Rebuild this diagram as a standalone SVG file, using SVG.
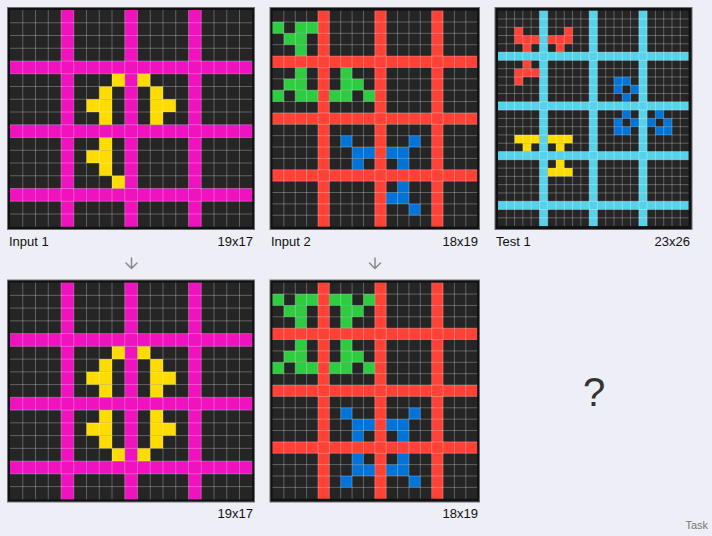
<svg xmlns="http://www.w3.org/2000/svg" width="712" height="536" viewBox="0 0 712 536">
<style>
.frame{fill:#111111;stroke:#6e6e74;stroke-width:1}
.bg{fill:#252525}
.grid{fill:none;stroke:#ffffff;stroke-opacity:0.28;stroke-width:1;vector-effect:non-scaling-stroke}
.m{fill:#f012be}.y{fill:#ffdc00}.r{fill:#ff4136}.g{fill:#2ecc40}.b{fill:#0074d9}.c{fill:#56d3ea}
.lbl{font-family:"Liberation Sans",Arial,sans-serif;font-size:13px;fill:#111}
.arr{fill:none;stroke:#8a8a8e;stroke-width:1.5;stroke-linecap:round;stroke-linejoin:round}
</style>
<rect width="712" height="536" fill="#eeeef6"/>

<g id="input1">
<rect class="frame" x="7.5" y="7.5" width="247" height="222"/>
<g transform="translate(10 10) scale(12.75)">
<rect class="bg" width="19" height="17"/>
<g class="m"><rect x="0" y="4" width="19" height="1"/><rect x="0" y="9" width="19" height="1"/><rect x="0" y="14" width="19" height="1"/><rect x="4" y="0" width="1" height="17"/><rect x="9" y="0" width="1" height="17"/><rect x="14" y="0" width="1" height="17"/></g>
<g class="y"><rect x="8" y="5" width="1" height="1"/><rect x="10" y="5" width="1" height="1"/><rect x="7" y="6" width="1" height="1"/><rect x="11" y="6" width="1" height="1"/><rect x="6" y="7" width="2" height="1"/><rect x="11" y="7" width="2" height="1"/><rect x="7" y="8" width="1" height="1"/><rect x="11" y="8" width="1" height="1"/><rect x="7" y="10" width="1" height="1"/><rect x="6" y="11" width="2" height="1"/><rect x="7" y="12" width="1" height="1"/><rect x="8" y="13" width="1" height="1"/></g>
<path class="grid" d="M1 0V17M2 0V17M3 0V17M4 0V17M5 0V17M6 0V17M7 0V17M8 0V17M9 0V17M10 0V17M11 0V17M12 0V17M13 0V17M14 0V17M15 0V17M16 0V17M17 0V17M18 0V17M0 1H19M0 2H19M0 3H19M0 4H19M0 5H19M0 6H19M0 7H19M0 8H19M0 9H19M0 10H19M0 11H19M0 12H19M0 13H19M0 14H19M0 15H19M0 16H19"/>
</g>
<text class="lbl" x="9" y="246">Input 1</text>
<text class="lbl" x="253" y="246" text-anchor="end">19x17</text>
</g>

<g id="input2">
<rect class="frame" x="270" y="7.5" width="209.5" height="222"/>
<g transform="translate(272.5 10.6) scale(11.37)">
<rect class="bg" width="18" height="19"/>
<g class="r"><rect x="0" y="4" width="18" height="1"/><rect x="0" y="9" width="18" height="1"/><rect x="0" y="14" width="18" height="1"/><rect x="4" y="0" width="1" height="19"/><rect x="9" y="0" width="1" height="19"/><rect x="14" y="0" width="1" height="19"/></g>
<g class="g"><rect x="0" y="1" width="1" height="1"/><rect x="2" y="1" width="2" height="1"/><rect x="1" y="2" width="2" height="1"/><rect x="2" y="3" width="1" height="1"/><rect x="2" y="5" width="1" height="1"/><rect x="6" y="5" width="1" height="1"/><rect x="1" y="6" width="2" height="1"/><rect x="6" y="6" width="2" height="1"/><rect x="0" y="7" width="1" height="1"/><rect x="2" y="7" width="2" height="1"/><rect x="5" y="7" width="2" height="1"/><rect x="8" y="7" width="1" height="1"/></g>
<g class="b"><rect x="6" y="11" width="1" height="1"/><rect x="12" y="11" width="1" height="1"/><rect x="7" y="12" width="2" height="1"/><rect x="10" y="12" width="2" height="1"/><rect x="7" y="13" width="1" height="1"/><rect x="11" y="13" width="1" height="1"/><rect x="11" y="15" width="1" height="1"/><rect x="10" y="16" width="2" height="1"/><rect x="12" y="17" width="1" height="1"/></g>
<path class="grid" d="M1 0V19M2 0V19M3 0V19M4 0V19M5 0V19M6 0V19M7 0V19M8 0V19M9 0V19M10 0V19M11 0V19M12 0V19M13 0V19M14 0V19M15 0V19M16 0V19M17 0V19M0 1H18M0 2H18M0 3H18M0 4H18M0 5H18M0 6H18M0 7H18M0 8H18M0 9H18M0 10H18M0 11H18M0 12H18M0 13H18M0 14H18M0 15H18M0 16H18M0 17H18M0 18H18"/>
</g>
<text class="lbl" x="271" y="246">Input 2</text>
<text class="lbl" x="478" y="246" text-anchor="end">18x19</text>
</g>

<g id="test1">
<rect class="frame" x="495" y="7.5" width="197" height="222"/>
<g transform="translate(498 10.67) scale(8.285)">
<rect class="bg" width="23" height="26"/>
<g class="c"><rect x="0" y="5" width="23" height="1"/><rect x="0" y="11" width="23" height="1"/><rect x="0" y="17" width="23" height="1"/><rect x="0" y="23" width="23" height="1"/><rect x="5" y="0" width="1" height="26"/><rect x="11" y="0" width="1" height="26"/><rect x="17" y="0" width="1" height="26"/></g>
<g class="r"><rect x="2" y="2" width="1" height="1"/><rect x="8" y="2" width="1" height="1"/><rect x="2" y="3" width="3" height="1"/><rect x="6" y="3" width="3" height="1"/><rect x="3" y="4" width="1" height="1"/><rect x="7" y="4" width="1" height="1"/><rect x="3" y="6" width="1" height="1"/><rect x="2" y="7" width="3" height="1"/><rect x="2" y="8" width="1" height="1"/></g>
<g class="b"><rect x="14" y="8" width="2" height="1"/><rect x="14" y="9" width="1" height="1"/><rect x="16" y="9" width="1" height="1"/><rect x="15" y="10" width="1" height="1"/><rect x="15" y="12" width="1" height="1"/><rect x="19" y="12" width="1" height="1"/><rect x="14" y="13" width="1" height="1"/><rect x="16" y="13" width="1" height="1"/><rect x="18" y="13" width="1" height="1"/><rect x="20" y="13" width="1" height="1"/><rect x="14" y="14" width="2" height="1"/><rect x="19" y="14" width="2" height="1"/></g>
<g class="y"><rect x="2" y="15" width="3" height="1"/><rect x="6" y="15" width="3" height="1"/><rect x="3" y="16" width="1" height="1"/><rect x="7" y="16" width="1" height="1"/><rect x="7" y="18" width="1" height="1"/><rect x="6" y="19" width="3" height="1"/></g>
<path class="grid" d="M1 0V26M2 0V26M3 0V26M4 0V26M5 0V26M6 0V26M7 0V26M8 0V26M9 0V26M10 0V26M11 0V26M12 0V26M13 0V26M14 0V26M15 0V26M16 0V26M17 0V26M18 0V26M19 0V26M20 0V26M21 0V26M22 0V26M0 1H23M0 2H23M0 3H23M0 4H23M0 5H23M0 6H23M0 7H23M0 8H23M0 9H23M0 10H23M0 11H23M0 12H23M0 13H23M0 14H23M0 15H23M0 16H23M0 17H23M0 18H23M0 19H23M0 20H23M0 21H23M0 22H23M0 23H23M0 24H23M0 25H23"/>
</g>
<text class="lbl" x="496" y="246">Test 1</text>
<text class="lbl" x="690" y="246" text-anchor="end">23x26</text>
</g>

<g id="output1">
<rect class="frame" x="7.5" y="280" width="247" height="222"/>
<g transform="translate(10 282.6) scale(12.75)">
<rect class="bg" width="19" height="17"/>
<g class="m"><rect x="0" y="4" width="19" height="1"/><rect x="0" y="9" width="19" height="1"/><rect x="0" y="14" width="19" height="1"/><rect x="4" y="0" width="1" height="17"/><rect x="9" y="0" width="1" height="17"/><rect x="14" y="0" width="1" height="17"/></g>
<g class="y"><rect x="8" y="5" width="1" height="1"/><rect x="10" y="5" width="1" height="1"/><rect x="7" y="6" width="1" height="1"/><rect x="11" y="6" width="1" height="1"/><rect x="6" y="7" width="2" height="1"/><rect x="11" y="7" width="2" height="1"/><rect x="7" y="8" width="1" height="1"/><rect x="11" y="8" width="1" height="1"/><rect x="7" y="10" width="1" height="1"/><rect x="11" y="10" width="1" height="1"/><rect x="6" y="11" width="2" height="1"/><rect x="11" y="11" width="2" height="1"/><rect x="7" y="12" width="1" height="1"/><rect x="11" y="12" width="1" height="1"/><rect x="8" y="13" width="1" height="1"/><rect x="10" y="13" width="1" height="1"/></g>
<path class="grid" d="M1 0V17M2 0V17M3 0V17M4 0V17M5 0V17M6 0V17M7 0V17M8 0V17M9 0V17M10 0V17M11 0V17M12 0V17M13 0V17M14 0V17M15 0V17M16 0V17M17 0V17M18 0V17M0 1H19M0 2H19M0 3H19M0 4H19M0 5H19M0 6H19M0 7H19M0 8H19M0 9H19M0 10H19M0 11H19M0 12H19M0 13H19M0 14H19M0 15H19M0 16H19"/>
</g>
<text class="lbl" x="253" y="518" text-anchor="end">19x17</text>
</g>

<g id="output2">
<rect class="frame" x="270" y="280" width="209.5" height="222"/>
<g transform="translate(272.5 282.7) scale(11.37)">
<rect class="bg" width="18" height="19"/>
<g class="r"><rect x="0" y="4" width="18" height="1"/><rect x="0" y="9" width="18" height="1"/><rect x="0" y="14" width="18" height="1"/><rect x="4" y="0" width="1" height="19"/><rect x="9" y="0" width="1" height="19"/><rect x="14" y="0" width="1" height="19"/></g>
<g class="g"><rect x="0" y="1" width="1" height="1"/><rect x="2" y="1" width="2" height="1"/><rect x="5" y="1" width="2" height="1"/><rect x="8" y="1" width="1" height="1"/><rect x="1" y="2" width="2" height="1"/><rect x="6" y="2" width="2" height="1"/><rect x="2" y="3" width="1" height="1"/><rect x="6" y="3" width="1" height="1"/><rect x="2" y="5" width="1" height="1"/><rect x="6" y="5" width="1" height="1"/><rect x="1" y="6" width="2" height="1"/><rect x="6" y="6" width="2" height="1"/><rect x="0" y="7" width="1" height="1"/><rect x="2" y="7" width="2" height="1"/><rect x="5" y="7" width="2" height="1"/><rect x="8" y="7" width="1" height="1"/></g>
<g class="b"><rect x="6" y="11" width="1" height="1"/><rect x="12" y="11" width="1" height="1"/><rect x="7" y="12" width="2" height="1"/><rect x="10" y="12" width="2" height="1"/><rect x="7" y="13" width="1" height="1"/><rect x="11" y="13" width="1" height="1"/><rect x="7" y="15" width="1" height="1"/><rect x="11" y="15" width="1" height="1"/><rect x="7" y="16" width="2" height="1"/><rect x="10" y="16" width="2" height="1"/><rect x="6" y="17" width="1" height="1"/><rect x="12" y="17" width="1" height="1"/></g>
<path class="grid" d="M1 0V19M2 0V19M3 0V19M4 0V19M5 0V19M6 0V19M7 0V19M8 0V19M9 0V19M10 0V19M11 0V19M12 0V19M13 0V19M14 0V19M15 0V19M16 0V19M17 0V19M0 1H18M0 2H18M0 3H18M0 4H18M0 5H18M0 6H18M0 7H18M0 8H18M0 9H18M0 10H18M0 11H18M0 12H18M0 13H18M0 14H18M0 15H18M0 16H18M0 17H18M0 18H18"/>
</g>
<text class="lbl" x="478" y="518" text-anchor="end">18x19</text>
</g>

<g id="connectors">
<path class="arr" d="M131.5 258V268.5M126 263L131.5 268.5L137 263"/>
<path class="arr" d="M375 258V268.5M369.5 263L375 268.5L380.5 263"/>
</g>

<g id="answer">
<text x="594" y="405.5" font-family="Liberation Sans,Arial,sans-serif" font-size="40" fill="#333" text-anchor="middle">?</text>
</g>
<text x="708" y="529" font-family="Liberation Sans,Arial,sans-serif" font-size="11" fill="#777" text-anchor="end">Task</text>
</svg>
